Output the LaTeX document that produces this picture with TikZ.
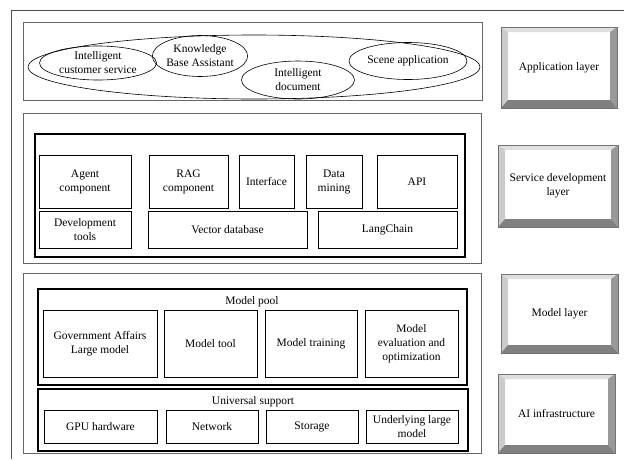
\documentclass[tikz,border=0pt]{standalone}
\usepackage{fontspec}
\setmainfont{Liberation Serif}
\usepackage{xcolor}
\usepackage{tikz}
\usetikzlibrary{shapes,shapes.geometric,positioning,calc}

\begin{document}
\begin{tikzpicture}[x=1pt, y=-1pt,
    font=\fontsize{11.5}{14}\selectfont,
    frame/.style={draw=black!70, line width=0.8pt},
    section/.style={draw=black!60, line width=0.7pt},
    group/.style={draw=black, line width=1.8pt},
    item/.style={draw=black, line width=0.6pt, align=center, inner sep=1pt},
    oval/.style={draw=black, line width=0.6pt, ellipse, align=center, inner sep=0pt},
    layer/.style={draw=black!55, line width=0.4pt, align=center, inner sep=0pt,
        path picture={
            \path (path picture bounding box.north west) coordinate (lnw)
                  (path picture bounding box.north east) coordinate (lne)
                  (path picture bounding box.south west) coordinate (lsw)
                  (path picture bounding box.south east) coordinate (lse);
            \fill[gray!25] (lnw) -- (lne) -- ([shift={(-7pt,-5pt)}]lne) -- ([shift={(7pt,-5pt)}]lnw) -- cycle;
            \fill[gray!40] (lnw) -- ([shift={(7pt,-5pt)}]lnw) -- ([shift={(7pt,8pt)}]lsw) -- (lsw) -- cycle;
            \fill[gray!80] (lne) -- (lse) -- ([shift={(-7pt,8pt)}]lse) -- ([shift={(-7pt,-5pt)}]lne) -- cycle;
            \fill[gray!100] (lsw) -- ([shift={(7pt,8pt)}]lsw) -- ([shift={(-7pt,8pt)}]lse) -- (lse) -- cycle;
        }}]
    \useasboundingbox (0,0) rectangle (624,459);

    % outer frame
    \draw[frame] (11,459) -- (11,10) -- (624,10);

    % application layer
    \draw[section] (23,22) rectangle (482,100);
    \node[oval, minimum width=452pt, minimum height=64pt] (appzone) at (254,67) {};
    \node[oval, minimum width=117pt, minimum height=34pt] (custsvc) at (98,63) {Intelligent\\customer service};
    \node[oval, minimum width=93pt, minimum height=41pt] (kbase) at (200,56) {Knowledge\\Base Assistant};
    \node[oval, minimum width=113pt, minimum height=38pt] (intdoc) at (298,80) {Intelligent\\document};
    \node[oval, minimum width=118pt, minimum height=37pt] (scene) at (408,61) {Scene application};

    % service development layer
    \draw[section] (23,113) rectangle (481,263);
    \draw[group] (35,134) rectangle (465,257);
    \node[item, minimum width=92pt, minimum height=53pt] (agent) at (85,181.5) {Agent\\component};
    \node[item, minimum width=79pt, minimum height=53pt] (rag) at (188.5,181.5) {RAG\\component};
    \node[item, minimum width=55pt, minimum height=53pt] (iface) at (266.5,181.5) {Interface};
    \node[item, minimum width=56pt, minimum height=53pt] (dmining) at (334,181.5) {Data\\mining};
    \node[item, minimum width=80pt, minimum height=53pt] (api) at (417,181.5) {API};
    \node[item, minimum width=92pt, minimum height=37pt] (devtools) at (85,229.5) {Development\\tools};
    \node[item, minimum width=159pt, minimum height=37pt] (vecdb) at (227.5,229.5) {Vector database};
    \node[item, minimum width=139pt, minimum height=37pt] (langchain) at (387.5,229.5) {LangChain};

    % model layer and infrastructure
    \draw[section] (23,273) rectangle (481,453);
    \draw[group] (38,289) rectangle (467,385);
    \node (pool) at (252,302) {Model pool};
    \node[item, minimum width=114pt, minimum height=67pt] (govllm) at (100,343.5) {Government Affairs\\Large model};
    \node[item, minimum width=93pt, minimum height=67pt] (mtool) at (210.5,343.5) {Model tool};
    \node[item, minimum width=92pt, minimum height=67pt] (mtrain) at (311,343.5) {Model training};
    \node[item, minimum width=93pt, minimum height=67pt] (meval) at (411.5,343.5) {Model\\evaluation and\\optimization};
    \draw[group] (38,389) rectangle (468,451);
    \node (support) at (253,402) {Universal support};
    \node[item, minimum width=113pt, minimum height=33pt] (gpu) at (100.5,426.5) {GPU hardware};
    \node[item, minimum width=92pt, minimum height=33pt] (network) at (212,426.5) {Network};
    \node[item, minimum width=92pt, minimum height=33pt] (storage) at (312,426.5) {Storage};
    \node[item, minimum width=92pt, minimum height=33pt] (ullm) at (412,426.5) {Underlying large\\model};

    % layer labels
    \node[layer, minimum width=116pt, minimum height=81pt] (applayer) at (559,67.5) {Application layer};
    \node[layer, minimum width=120pt, minimum height=82pt] (svclayer) at (558,186) {Service development\\layer};
    \node[layer, minimum width=117pt, minimum height=79pt] (modlayer) at (559.5,313.5) {Model layer};
    \node[layer, minimum width=117pt, minimum height=79pt] (infra) at (556.5,413.5) {AI infrastructure};
\end{tikzpicture}
\end{document}
